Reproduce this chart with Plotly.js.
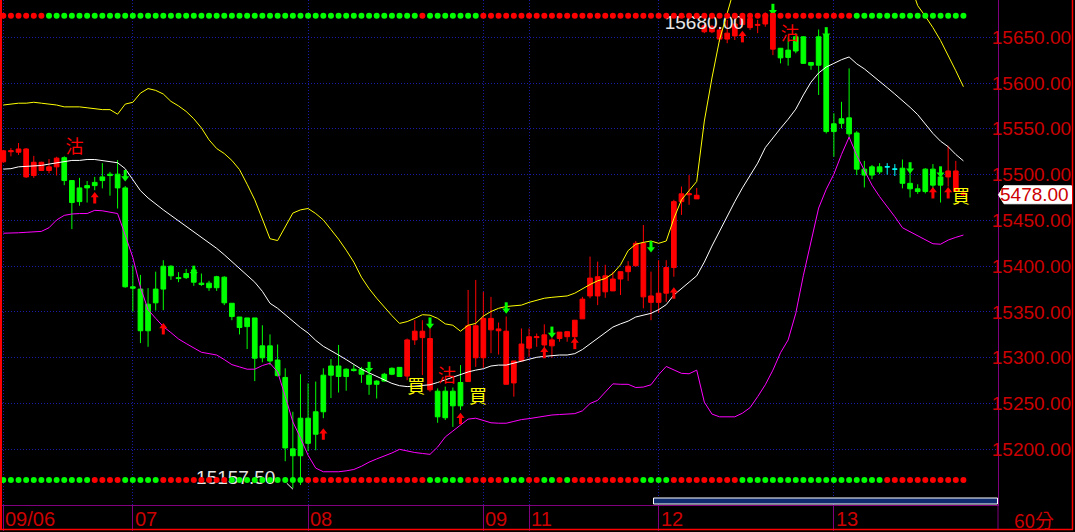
<!DOCTYPE html>
<html><head><meta charset="utf-8">
<script src="https://cdn.plot.ly/plotly-3.0.1.min.js"></script>
<style>html,body{margin:0;padding:0;background:#000;overflow:hidden}#chart{width:1075px;height:532px}</style>
</head><body><div id="chart"></div>
<script>
// ---------------- data ----------------
const dayStarts = [0, 17, 40, 63, 69, 86, 109];
const dayLabels = ['09/06', '07', '08', '09', '11', '12', '13'];
const barUnit = '60分';

const openP = [
15514,15525,15524.5,15497.5,15499,15504.5,15504.5,15508.5,15518.5,15493.5,
15485.5,15488,15491.5,15497.5,15500.5,15500.5,15485.5,15377.5,15375,15358.5,
15375,15400,15400,15387.5,15392,15396,15381.5,15381.5,15388.5,15388,
15359.5,15344.5,15343.5,15343.5,15313,15313,15297.5,15278.5,15200.5,15234,
15234,15241,15281,15291,15291,15287.5,15287.5,15287.5,15281,15274.5,
15282,15288.5,15289.5,15280,15319.5,15322,15265,15263.5,15263.5,15263.5,
15273,15274,15300,15300,15330.5,15329.5,15271,15272.5,15296.5,15310.5,
15322,15314,15313,15321,15323,15323,15342.5,15367.5,15367.5,15372,
15373,15386,15394,15400.5,15366.5,15360.5,15360.5,15370.5,15398.5,15470.5,
15478,15473.5,15656,15656,15648,15648,15651.5,15664,15660.5,15663,
15664.5,15637,15638,15636,15650.5,15650.5,15622.5,15650.5,15652.5,15555.5,
15561,15562,15545.5,15506,15508.5,15508.5,15508.5,15506,15507,15490.5,
15484.5,15506,15506,15497.5,15497.5,15481.5,15480];
const highP = [
15527,15529,15534.5,15529,15520.5,15514,15517,15519.5,15520,15494,
15496.5,15493,15497.5,15512.5,15503,15516,15487.5,15401,15390.5,15376,
15394,15406.5,15401,15393.5,15397,15397,15392,15384,15389.5,15389,
15359.5,15344.5,15343.5,15343.5,15335.5,15325.5,15314.5,15288.5,15241,15282,
15272,15274,15288.5,15298.5,15314,15288.5,15292,15290,15288.5,15275.5,
15283.5,15289.5,15289.5,15321,15341,15341,15332,15266.5,15268.5,15267.5,
15292,15374,15385,15372,15366.5,15338.5,15345,15296.5,15332,15332,
15326.5,15336.5,15322,15328,15329,15341,15366.5,15410.5,15405,15401.5,
15394,15394,15405.5,15427.5,15445,15394,15406.5,15406.5,15472.5,15487,
15499.5,15485.5,15664.5,15663.5,15661.5,15669,15670.5,15675,15672,15669,
15677,15680,15638,15650.5,15654.5,15651,15623,15658.5,15660,15567,
15579.5,15616,15547.5,15515,15510.5,15512.5,15512.5,15511.5,15516.5,15510.5,
15489.5,15507,15511.5,15508.5,15531.5,15515,15481.5];
const lowP = [
15513,15520,15521.5,15496.5,15496.5,15504,15501.5,15499,15488.5,15440.5,
15466,15469.5,15483,15485,15477,15463,15376.5,15350.5,15316,15312,
15351.5,15352,15385,15382.5,15386,15378.5,15378.5,15373,15373,15357.5,
15341,15325.5,15309.5,15274.5,15295,15292,15279.5,15187,15157.5,15161,
15198,15199,15234,15256,15262,15264,15285,15272.5,15259.5,15255.5,
15274,15281,15279.5,15275.5,15314,15281,15263,15229,15232,15224.5,
15243,15274,15290,15289,15305,15303.5,15271,15257.5,15296.5,15301,
15312,15308.5,15300,15317.5,15317.5,15319.5,15342.5,15365,15357.5,15365.5,
15373,15368.5,15384,15399.5,15354,15341,15349,15361,15388.5,15456,
15467,15473.5,15654.5,15654.5,15645,15643.5,15647,15661,15658,15654.5,
15661.5,15630.5,15621.5,15619,15632.5,15621,15614.5,15587,15545,15519.5,
15550.5,15539,15499.5,15486,15495,15500.5,15500,15498.5,15485,15475,
15479,15479.5,15477.5,15469.5,15487,15481,15476];
const closeP = [
15526,15526,15528,15528,15513.5,15513.5,15508.5,15518,15493.5,15469.5,
15470.5,15485.5,15488,15493.5,15499,15485.5,15377.5,15376,15329.5,15329.5,
15360,15375,15389.5,15386.5,15387.5,15382.5,15380,15376.5,15376.5,15360,
15345,15333,15334,15299.5,15300,15296.5,15280.5,15201.5,15193,15193,
15206.5,15216.5,15241,15281,15279.5,15279.5,15286,15282,15271,15271,
15274.5,15282,15279.5,15319.5,15329,15329,15321,15235.5,15234.5,15247.5,
15247.5,15335,15335,15343,15343,15331.5,15329,15296.5,15315,15323,
15323,15325,15319.5,15328,15328.5,15341,15364,15387,15388.5,15389.5,
15386,15394,15400,15425,15425,15367.5,15370.5,15398.5,15470.5,15479,
15479,15477.5,15662.5,15661.5,15658,15654.5,15664.5,15672,15670.5,15664,
15674.5,15676,15627.5,15628,15635,15621.5,15619.5,15619.5,15547,15547,
15556,15544.5,15506,15499.5,15499.5,15503,15508.5,15506,15490.5,15484.5,
15481.5,15481.5,15488.5,15488.5,15504,15504,15478];
// candle colour as drawn: R red, G green, C cyan (doji)
const candleColorRuns = [['R',8],['G',45],['R',4],['G',4],['R',41],['G',14],['C',2],['G',6],['R',3]];

const upperBand = [
15576,15577,15578,15578,15579,15578,15577,15576,15574,15574,
15574,15573,15572,15571,15571,15566,15577,15579,15589,15594,
15592,15588,15580,15575,15569,15561,15551,15538,15528.5,15523,
15515.5,15505.5,15489.5,15472.5,15451.5,15430,15428,15443.5,15458,15461.5,
15463,15457.5,15450.5,15440,15429.5,15417.5,15404.5,15388,15375.5,15365,
15355,15346,15337.5,15339.5,15343,15347,15346.5,15343,15337,15335.5,
15329,15335.5,15337.5,15345.5,15350.5,15354,15356,15356.5,15357.5,15360.5,
15363,15365,15366,15367,15367.5,15370.5,15375.5,15380,15384,15386.5,
15392,15401.5,15417,15424,15426,15427.5,15425,15427.5,15452,15472.5,
15482.5,15492.5,15558.5,15605.5,15647.5,15677.5,15705,15731.5,15751.5,15768,
15788.5,15794.5,15795,15802,15795,15784,15777,15758.5,15751,15742.5,
15729,15716.5,15721,15726.5,15729,15727.5,15724,15722,15719.5,15709,
15684.5,15673,15660.5,15646.5,15630.5,15613.5,15596];
const midBand = [
15506,15506.5,15508.5,15509,15509.5,15510,15511.5,15513,15514.5,15515.5,
15515.5,15516.5,15516.5,15515.5,15514.5,15513,15506.5,15495,15482.5,15474.5,
15467.5,15461.5,15455.5,15449.5,15443,15437,15431.5,15425.5,15419.5,15412.5,
15405,15398,15390,15382.5,15372.5,15359.5,15354,15347,15339.5,15333,
15327,15319,15312.5,15308,15303,15298,15293,15287.5,15283.5,15279.5,
15275.5,15272,15269.5,15268.5,15269,15269.5,15270.5,15273,15276,15278.5,
15282,15284.5,15286.5,15288,15291,15292,15292,15294,15296,15298,
15300.5,15301.5,15302.5,15303,15303,15304.5,15309,15315,15321,15327.5,
15333.5,15337,15340,15344.5,15346.5,15348.5,15352.5,15358,15368.5,15376,
15382.5,15389.5,15404.5,15422,15438.5,15455,15470.5,15485.5,15498.5,15512.5,
15529.5,15540.5,15550.5,15560.5,15571.5,15587,15601,15611,15617.5,15621.5,
15625.5,15628.5,15621,15615.5,15609,15602,15595,15588,15581,15573.5,
15565.5,15555.5,15545,15536.5,15530.5,15522,15515];
const lowerBand = [
15436,15436,15436.5,15437,15437.5,15438,15442,15450.5,15455.5,15457,
15457.5,15457.5,15461,15460.5,15459,15457.5,15434,15409.5,15377,15352.5,
15343,15334,15327.5,15320.5,15315.5,15310.5,15306,15304.5,15303,15298,
15292.5,15290,15287.5,15287.5,15291.5,15294,15284.5,15258,15230,15212.5,
15193.5,15179.5,15175.5,15175.5,15175.5,15176.5,15178,15181.5,15186,15189.5,
15192.5,15196,15200,15198,15196.5,15195.5,15194.5,15202.5,15213.5,15220,
15226.5,15233,15234,15231.5,15229,15228.5,15228.5,15230.5,15232.5,15233.5,
15235,15236.5,15237.5,15238,15238.5,15239,15242,15250,15253.5,15263,
15271.5,15271,15271,15267.5,15268,15270.5,15281.5,15290.5,15286.5,15283,
15282.5,15286.5,15251.5,15238.5,15235.5,15235.5,15235.5,15239.5,15245.5,15257.5,
15270.5,15286.5,15305.5,15319.5,15348.5,15390,15425.5,15463.5,15484,15500.5,
15522,15541,15521,15504,15488.5,15476,15465.5,15454,15442,15437.5,
15433.5,15429,15424.5,15424,15428.5,15431.5,15434];

const topDotRuns = [['R',6],['G',49],['R',1],['G',7],['R',49],['G',15]];
const bottomDotRuns = [['G',12],['R',4],['G',5],['R',9],['G',10],['R',16],['G',5],['R',5],['G',3],['R',2],['G',2],['R',1],['G',1],['R',9],['G',4],['R',9],['G',19],['R',11]];

const upArrowIdx = [12, 21, 42, 60, 71, 75, 88, 97, 122, 124];
const upArrowPrice = [15475, 15332, 15217, 15234, 15306, 15316, 15371, 15651, 15480.5, 15480.5];
const downArrowIdx = [16, 25, 48, 56, 66, 72, 85, 101, 108, 119, 123];
const downArrowPrice = [15498.5, 15394, 15289, 15337.5, 15354, 15327.5, 15421, 15680, 15654.5, 15507, 15502.5];

const signalX = [9.35, 54.2, 58.2, 62.3, 103.2, 125.7];
const signalPrice = [15529, 15266, 15278, 15256, 15651.5, 15473.5];
const signalText = ['沽', '買', '沽', '買', '沽', '買'];

const yTickVals = [15200, 15250, 15300, 15350, 15400, 15450, 15500, 15550, 15600, 15650];
const lastPrice = 15478;

// ---------------- geometry / style ----------------
const W = 1075, H = 532, ml = 2, mr = 77, mt = 0, mb = 27;
const plotW = W - ml - mr, plotH = H - mt - mb;
const yMin = 15139.2, yMax = 15690.7;
const xMin = -0.17, xMax = 130.54;
const ppp = (yMax - yMin) / plotH;           // price per pixel
const px2x = px => (px - ml) / plotW;
const px2y = py => 1 - (py - mt) / plotH;
const RED = '#ff0000', GREEN = '#00ff00', CYAN = '#00ffff';
const AXRED = '#cc0000', PURPLE = '#800080', GRID = '#1a1aa8';

const expand = runs => runs.flatMap(([c, n]) => Array(n).fill(c));
const candleColor = expand(candleColorRuns);
const topDots = expand(topDotRuns);
const bottomDots = expand(bottomDotRuns);
const idx = openP.map((_, i) => i);
const colMap = {R: RED, G: GREEN, C: CYAN};

const traces = [];

// price extreme labels (drawn first so candles & dots sit over them)
let hiIdx = 0, loIdx = 0;
highP.forEach((v, i) => { if (v > highP[hiIdx]) hiIdx = i; });
lowP.forEach((v, i) => { if (v < lowP[loIdx]) loIdx = i; });
traces.push({type: 'scatter', mode: 'text', x: [hiIdx - 3.8, loIdx - 2.3],
  y: [highP[hiIdx] - 15.5, lowP[loIdx] + 10],
  text: [highP[hiIdx].toFixed(2), lowP[loIdx].toFixed(2)],
  textposition: 'middle left', textfont: {family: 'Liberation Sans', size: 19, color: '#e6e6e6'},
  hoverinfo: 'skip'});
traces.push({type: 'scatter', mode: 'lines', x: [loIdx - 0.8, loIdx], y: [lowP[loIdx] + 5.5, lowP[loIdx] - 1],
  line: {color: '#ffffff', width: 1}, hoverinfo: 'skip'});

// candles, one trace per drawn colour
['R', 'G', 'C'].forEach(c => {
  const pick = arr => arr.map((v, i) => candleColor[i] === c ? v : null);
  traces.push({type: 'candlestick', x: idx, open: pick(openP), high: pick(highP), low: pick(lowP), close: pick(closeP),
    increasing: {line: {color: colMap[c], width: 1}, fillcolor: colMap[c]},
    decreasing: {line: {color: colMap[c], width: 1}, fillcolor: colMap[c]},
    whiskerwidth: 0, hoverinfo: 'skip'});
});

// Bollinger bands
[[upperBand, '#ffff00'], [midBand, '#ffffff'], [lowerBand, '#ff00ff']].forEach(([arr, col]) => {
  traces.push({type: 'scatter', mode: 'lines', x: idx, y: arr, line: {color: col, width: 1}, hoverinfo: 'skip'});
});

// arrows
traces.push({type: 'scatter', mode: 'markers', x: upArrowIdx, y: upArrowPrice.map(p => p + 2 * ppp),
  marker: {symbol: 'triangle-up', size: 7, color: RED, line: {width: 0}}, hoverinfo: 'skip'});
traces.push({type: 'scatter', mode: 'markers', x: upArrowIdx, y: upArrowPrice.map(p => p - 2.5 * ppp),
  marker: {symbol: 'line-ns', size: 5, line: {color: RED, width: 3}}, hoverinfo: 'skip'});
traces.push({type: 'scatter', mode: 'markers', x: downArrowIdx, y: downArrowPrice.map(p => p - 2 * ppp),
  marker: {symbol: 'triangle-down', size: 7, color: GREEN, line: {width: 0}}, hoverinfo: 'skip'});
traces.push({type: 'scatter', mode: 'markers', x: downArrowIdx, y: downArrowPrice.map(p => p + 2.5 * ppp),
  marker: {symbol: 'line-ns', size: 5, line: {color: GREEN, width: 3}}, hoverinfo: 'skip'});

// buy / sell signals
traces.push({type: 'scatter', mode: 'text', x: signalX, y: signalPrice, text: signalText,
  textposition: 'middle center',
  textfont: {family: 'Noto Sans CJK TC', size: 18, color: signalText.map(t => t === '買' ? '#ffff00' : RED)},
  hoverinfo: 'skip'});

// indicator dot rows (on a pixel-like overlay axis)
const dotIdx = topDots.map((_, i) => i);
traces.push({type: 'scatter', mode: 'markers', x: dotIdx, y: dotIdx.map(() => 15.7), yaxis: 'y2',
  marker: {size: 6, color: topDots.map(c => colMap[c]), line: {width: 0}}, hoverinfo: 'skip'});
traces.push({type: 'scatter', mode: 'markers', x: dotIdx, y: dotIdx.map(() => 480), yaxis: 'y2',
  marker: {size: 6, color: bottomDots.map(c => colMap[c]), line: {width: 0}}, hoverinfo: 'skip'});

// ---------------- layout ----------------
const yc = (yMax - lastPrice) / ppp;
const boxPath = `M${px2x(998.5)},${px2y(yc)} L${px2x(1004)},${px2y(yc - 9)} L${px2x(1071.5)},${px2y(yc - 9)} L${px2x(1071.5)},${px2y(yc + 9)} L${px2x(1004)},${px2y(yc + 9)} Z`;

const shapes = [
  {type: 'line', xref: 'paper', yref: 'paper', x0: px2x(1), x1: px2x(1), y0: px2y(0), y1: px2y(530), line: {color: RED, width: 2}},
  {type: 'line', xref: 'paper', yref: 'paper', x0: px2x(0), x1: px2x(1073), y0: px2y(529.5), y1: px2y(529.5), line: {color: RED, width: 1.5}},
  {type: 'line', xref: 'paper', yref: 'paper', x0: px2x(1072.5), x1: px2x(1072.5), y0: px2y(0), y1: px2y(529.5), line: {color: RED, width: 1.5}},
  {type: 'line', xref: 'paper', yref: 'paper', x0: px2x(998), x1: px2x(998), y0: px2y(505), y1: px2y(529), line: {color: PURPLE, width: 1}},
  {type: 'rect', xref: 'paper', yref: 'paper', x0: px2x(653.5), x1: px2x(997.5), y0: px2y(498), y1: px2y(504), fillcolor: '#102a6e', line: {color: '#ffffff', width: 1}},
  {type: 'path', xref: 'paper', yref: 'paper', path: boxPath, fillcolor: '#ffffff', line: {color: '#ffffff', width: 1}}
];

const annotations = dayStarts.map((d, k) => ({
  x: d, xref: 'x', xanchor: 'left', y: px2y(519), yref: 'paper', yanchor: 'middle',
  text: dayLabels[k], showarrow: false, font: {family: 'Liberation Sans', size: 20, color: AXRED}
}));
annotations.push({x: px2x(1034), xref: 'paper', xanchor: 'center', y: px2y(519), yref: 'paper', yanchor: 'middle',
  text: barUnit, showarrow: false, font: {family: 'Noto Sans CJK TC', size: 19, color: AXRED}});
annotations.push({x: px2x(1070.5), xref: 'paper', xanchor: 'right', y: lastPrice, yref: 'y', yanchor: 'middle',
  text: (lastPrice - 10000).toFixed(2), showarrow: false, font: {family: 'Liberation Sans', size: 19, color: AXRED}});

const layout = {
  width: W, height: H, margin: {l: ml, r: mr, t: mt, b: mb, pad: 0},
  paper_bgcolor: '#000000', plot_bgcolor: '#000000', showlegend: false,
  boxgap: 0.12, boxmode: 'overlay',
  xaxis: {type: 'linear', range: [xMin, xMax], fixedrange: true, rangeslider: {visible: false},
    tickvals: dayStarts, showticklabels: false, ticks: 'outside', ticklen: 25, tickwidth: 1, tickcolor: PURPLE,
    showgrid: true, gridcolor: GRID, griddash: '1px,2px', gridwidth: 1,
    showline: true, linecolor: PURPLE, linewidth: 1, zeroline: false},
  yaxis: {range: [yMin, yMax], fixedrange: true, side: 'right', tickvals: yTickVals,
    ticktext: yTickVals.map(v => v.toFixed(2)), ticks: '', ticklabelstandoff: -11,
    tickfont: {family: 'Liberation Sans', size: 19, color: AXRED},
    showgrid: true, gridcolor: GRID, griddash: '1px,2px', gridwidth: 1,
    showline: true, linecolor: PURPLE, linewidth: 1, zeroline: false},
  yaxis2: {overlaying: 'y', range: [plotH, 0], visible: false, fixedrange: true},
  shapes: shapes, annotations: annotations
};

Plotly.newPlot('chart', traces, layout, {staticPlot: true, displayModeBar: false});
</script>
</body></html>
